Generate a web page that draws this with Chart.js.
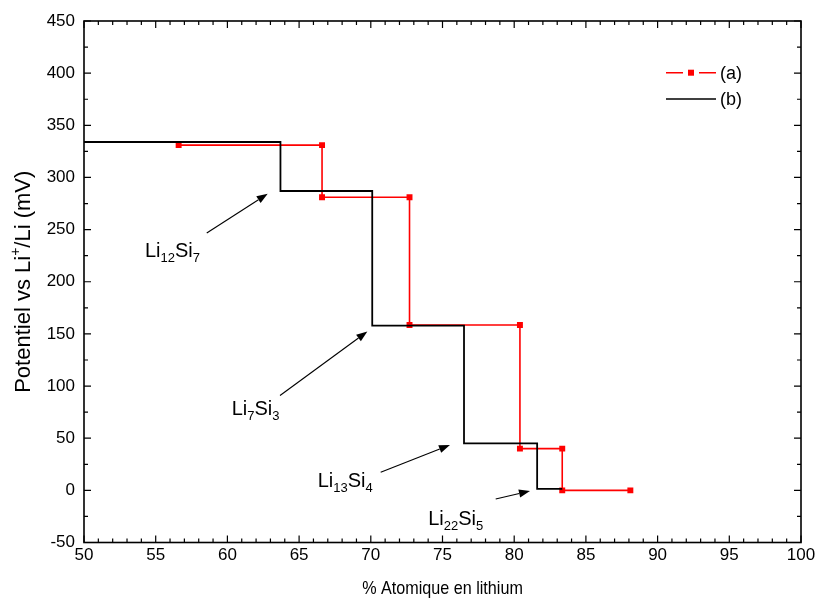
<!DOCTYPE html>
<html>
<head>
<meta charset="utf-8">
<script src="https://cdn.jsdelivr.net/npm/chart.js@4/dist/chart.umd.min.js"></script>
<style>
html,body{margin:0;padding:0;background:#fff;}
#wrap{width:820px;height:603px;position:relative;}
</style>
</head>
<body>
<div id="wrap"><canvas id="c" width="820" height="603"></canvas></div>
<script>
// Series (a) - red step with square markers
const xA = [56.6, 66.6, 66.6, 72.7, 72.7, 80.4, 80.4, 83.35, 83.35, 88.1];
const yA = [331, 331, 281, 281, 158.5, 158.5, 40, 40, 0, 0];
// Series (b) - black step line
const xB = [50, 63.7, 63.7, 70.1, 70.1, 76.5, 76.5, 81.6, 81.6, 83.35];
const yB = [334, 334, 287, 287, 158, 158, 45, 45, 1.5, 1.5];
const seriesNames = ['(a)', '(b)'];

// Axis ticks
const xTicks = [50, 55, 60, 65, 70, 75, 80, 85, 90, 95, 100];
const yTicks = [-50, 0, 50, 100, 150, 200, 250, 300, 350, 400, 450];

// Phase annotations (data units)
const phaseLiSub = ['12', '7', '13', '22'];
const phaseSiSub = ['7', '3', '4', '5'];
const labelX = [54.25, 60.3, 66.3, 74.0];
const labelY = [224, 72, 3.3, -33.2];
const arrowFromX = [58.56, 63.67, 70.69, 78.71];
const arrowFromY = [246.7, 90.9, 17.4, -8.3];
const arrowToX = [62.81, 69.76, 75.52, 81.1];
const arrowToY = [284.4, 152.3, 43.6, -0.6];

const FONT = "'Liberation Sans', Arial, sans-serif";

function pts(xs, ys) { return xs.map((x, i) => ({x: x, y: ys[i]})); }

const decor = {
  id: 'decor',
  afterDraw(chart) {
    const ctx = chart.ctx;
    const ca = chart.chartArea;
    const sx = chart.scales.x, sy = chart.scales.y;
    ctx.save();
    // frame
    ctx.strokeStyle = '#000';
    ctx.lineWidth = 1.6;
    ctx.strokeRect(ca.left, ca.top, ca.right - ca.left, ca.bottom - ca.top);
    // ticks inward
    ctx.lineWidth = 1.2;
    ctx.beginPath();
    for (let v = 50; v <= 100; v += 1) {
      const px = sx.getPixelForValue(v);
      const len = (v % 5 === 0) ? 7 : 4;
      ctx.moveTo(px, ca.bottom); ctx.lineTo(px, ca.bottom - len);
      ctx.moveTo(px, ca.top); ctx.lineTo(px, ca.top + len);
    }
    for (let v = -50; v <= 450; v += 25) {
      const py = sy.getPixelForValue(v);
      const len = (v % 50 === 0) ? 7 : 4;
      ctx.moveTo(ca.left, py); ctx.lineTo(ca.left + len, py);
      ctx.moveTo(ca.right, py); ctx.lineTo(ca.right - len, py);
    }
    ctx.stroke();

    // x axis title (slightly condensed like the reference)
    ctx.fillStyle = '#000';
    ctx.save();
    ctx.translate((ca.left + ca.right) / 2, 589);
    ctx.scale(0.85, 1);
    ctx.font = '19px ' + FONT;
    ctx.textAlign = 'center';
    ctx.textBaseline = 'middle';
    ctx.fillText('% Atomique en lithium', 0, 0);
    ctx.restore();

    // y title with superscript
    ctx.save();
    ctx.translate(22, (ca.top + ca.bottom) / 2);
    ctx.rotate(-Math.PI / 2);
    const p1 = 'Potentiel vs Li', sup = '+', p2 = '/Li (mV)';
    const big = 22, small = 14;
    ctx.font = big + 'px ' + FONT;
    const w1 = ctx.measureText(p1).width, w3 = ctx.measureText(p2).width;
    ctx.font = small + 'px ' + FONT;
    const w2 = ctx.measureText(sup).width;
    const tot = w1 + w2 + w3;
    let x0 = -tot / 2;
    ctx.textAlign = 'left';
    ctx.textBaseline = 'alphabetic';
    ctx.font = big + 'px ' + FONT;
    ctx.fillText(p1, x0, 8);
    ctx.font = small + 'px ' + FONT;
    ctx.fillText(sup, x0 + w1, -2);
    ctx.font = big + 'px ' + FONT;
    ctx.fillText(p2, x0 + w1 + w2, 8);
    ctx.restore();

    // legend
    const lx = ca.right - 135, ly1 = 72.7, ly2 = 99;
    ctx.strokeStyle = '#ff0000';
    ctx.lineWidth = 1.6;
    ctx.beginPath();
    ctx.moveTo(lx, ly1); ctx.lineTo(lx + 17, ly1);
    ctx.moveTo(lx + 33, ly1); ctx.lineTo(lx + 50, ly1);
    ctx.stroke();
    ctx.fillStyle = '#ff0000';
    ctx.fillRect(lx + 22, ly1 - 3, 6, 6);
    ctx.strokeStyle = '#000';
    ctx.beginPath();
    ctx.moveTo(lx, ly2); ctx.lineTo(lx + 50, ly2);
    ctx.stroke();
    ctx.fillStyle = '#000';
    ctx.font = '18px ' + FONT;
    ctx.textAlign = 'left';
    ctx.textBaseline = 'middle';
    ctx.fillText(seriesNames[0], lx + 54, ly1 + 1);
    ctx.fillText(seriesNames[1], lx + 54, ly2 + 1);

    // phase labels
    ctx.textBaseline = 'alphabetic';
    for (let i = 0; i < labelX.length; i++) {
      let x = sx.getPixelForValue(labelX[i]);
      const y = sy.getPixelForValue(labelY[i]);
      const parts = [['Li', 0], [phaseLiSub[i], 1], ['Si', 0], [phaseSiSub[i], 1]];
      for (const [t, sub] of parts) {
        ctx.font = (sub ? '13px ' : '20px ') + FONT;
        ctx.fillText(t, x, sub ? y + 5 : y);
        x += ctx.measureText(t).width;
      }
      // arrow
      const ax0 = sx.getPixelForValue(arrowFromX[i]), ay0 = sy.getPixelForValue(arrowFromY[i]);
      const ax1 = sx.getPixelForValue(arrowToX[i]), ay1 = sy.getPixelForValue(arrowToY[i]);
      const ang = Math.atan2(ay1 - ay0, ax1 - ax0);
      const hl = 11, hw = 4;
      const bx = ax1 - hl * Math.cos(ang), by = ay1 - hl * Math.sin(ang);
      ctx.strokeStyle = '#000';
      ctx.lineWidth = 1.1;
      ctx.beginPath();
      ctx.moveTo(ax0, ay0); ctx.lineTo(bx, by);
      ctx.stroke();
      ctx.beginPath();
      ctx.moveTo(ax1, ay1);
      ctx.lineTo(bx + hw * Math.sin(ang), by - hw * Math.cos(ang));
      ctx.lineTo(bx - hw * Math.sin(ang), by + hw * Math.cos(ang));
      ctx.closePath();
      ctx.fill();
    }
    ctx.restore();
  }
};

new Chart(document.getElementById('c'), {
  type: 'scatter',
  data: {
    datasets: [
      {
        label: seriesNames[0],
        data: pts(xA, yA),
        showLine: true,
        borderColor: '#ff0000',
        backgroundColor: '#ff0000',
        borderWidth: 1.6,
        pointStyle: 'rect',
        pointRadius: 4.2,
        pointBorderWidth: 0,
        tension: 0,
        order: 1
      },
      {
        label: seriesNames[1],
        data: pts(xB, yB),
        showLine: true,
        borderColor: '#000000',
        backgroundColor: '#000000',
        borderWidth: 1.8,
        pointRadius: 0,
        tension: 0,
        order: 0
      }
    ]
  },
  options: {
    responsive: false,
    animation: false,
    devicePixelRatio: 1,
    layout: { padding: { top: 21, right: 19, left: 0, bottom: 0 } },
    plugins: { legend: { display: false }, tooltip: { enabled: false } },
    scales: {
      x: {
        type: 'linear', min: 50, max: 100,
        afterBuildTicks: (s) => { s.ticks = xTicks.map(v => ({value: v})); },
        ticks: { color: '#000', font: { family: FONT, size: 17 }, padding: 3, maxRotation: 0 },
        grid: { display: false, drawTicks: false },
        border: { display: false },
        afterFit: (s) => { s.height = 60.5; }
      },
      y: {
        type: 'linear', min: -50, max: 450,
        afterBuildTicks: (s) => { s.ticks = yTicks.map(v => ({value: v})); },
        ticks: { color: '#000', font: { family: FONT, size: 17 }, padding: 9 },
        grid: { display: false, drawTicks: false },
        border: { display: false },
        afterFit: (s) => { s.width = 84; }
      }
    }
  },
  plugins: [decor]
});
</script>
</body>
</html>
